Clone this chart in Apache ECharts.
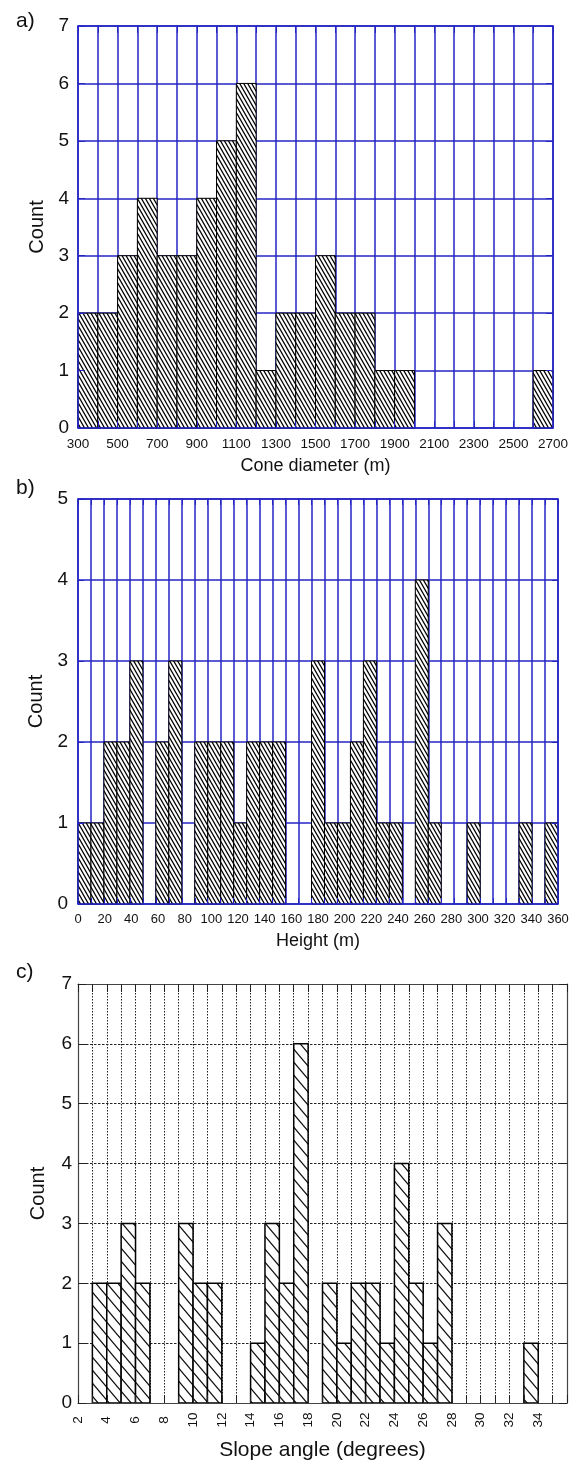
<!DOCTYPE html>
<html>
<head>
<meta charset="utf-8">
<script src="https://cdn.jsdelivr.net/npm/echarts@6/dist/echarts.min.js"></script>
<style>
  html, body { margin: 0; padding: 0; background: #fff; }
  #chart { width: 581px; height: 1462px; }
</style>
</head>
<body>
<div id="chart"></div>
<script>
// a) Cone diameter, 100 m bins starting at 300 m
const diameterStart = 300;
const diameterBinWidth = 100;
const diameterCounts = [2, 2, 3, 4, 3, 3, 4, 5, 6, 1, 2, 2, 3, 2, 2, 1, 1, 0, 0, 0, 0, 0, 0, 1];
const diameterTicks = [300, 500, 700, 900, 1100, 1300, 1500, 1700, 1900, 2100, 2300, 2500, 2700];

// b) Height, 37 equal bins spread over the 0-360 m scale
const heightCounts = [1, 1, 2, 2, 3, 0, 2, 3, 0, 2, 2, 2, 1, 2, 2, 2, 0, 0, 3, 1, 1, 2, 3, 1, 1, 0, 4, 1, 0, 0, 1, 0, 0, 0, 1, 0, 1];
const heightTicks = [0, 20, 40, 60, 80, 100, 120, 140, 160, 180, 200, 220, 240, 260, 280, 300, 320, 340, 360];

// c) Slope angle, 1 degree bins from 2 to 36 degrees
const slopeStart = 2;
const slopeBinWidth = 1;
const slopeCounts = [0, 2, 2, 3, 2, 0, 0, 3, 2, 2, 0, 0, 1, 3, 2, 6, 0, 2, 1, 2, 2, 1, 4, 2, 1, 3, 0, 0, 0, 0, 0, 1, 0, 0];
const slopeTicks = [2, 4, 6, 8, 10, 12, 14, 16, 18, 20, 22, 24, 26, 28, 30, 32, 34];

const FONT = "'Liberation Sans', Arial, Helvetica, sans-serif";
const BLUE = '#2424c4';

// Diagonal hatch tile used as a repeating bar fill
function hatch(w, h, lw, color) {
  const c = document.createElement('canvas');
  c.width = w; c.height = h;
  const g = c.getContext('2d');
  g.fillStyle = '#ffffff';
  g.fillRect(0, 0, w, h);
  g.strokeStyle = color;
  g.lineWidth = lw;
  g.beginPath();
  for (const dx of [-w, 0, w]) {
    g.moveTo(dx - w, -h);
    g.lineTo(dx + 2 * w, 2 * h);
  }
  g.stroke();
  return c;
}

// [lo, hi, count] rows for the non-empty bins
function binRows(start, width, counts) {
  const rows = [];
  counts.forEach((n, i) => {
    if (n > 0) rows.push([start + i * width, start + (i + 1) * width, n]);
  });
  return rows;
}

function barRenderer(fill, stroke, lineWidth) {
  return function (params, api) {
    const p0 = api.coord([api.value(0), api.value(2)]);
    const p1 = api.coord([api.value(1), 0]);
    return {
      type: 'rect',
      shape: { x: p0[0], y: p0[1], width: p1[0] - p0[0], height: p1[1] - p0[1] },
      style: { fill: fill, stroke: stroke, lineWidth: lineWidth }
    };
  };
}

const option = {
  animation: false,
  backgroundColor: '#ffffff',
  grid: [], xAxis: [], yAxis: [], series: [], graphic: []
};

function addPanel(p) {
  const gi = option.grid.length;
  option.grid.push({ left: 78, right: p.right, top: p.top, height: p.height });

  const xScale = { gridIndex: gi, type: 'value', min: p.xMin, max: p.xMax, interval: p.xStep };
  const yScale = { gridIndex: gi, type: 'value', min: 0, max: p.yMax, interval: 1 };
  const tickStyle = { show: true, inside: true, length: p.tickLen, lineStyle: { color: p.tickColor, width: 1 } };
  const frameLine = { show: true, onZero: false, lineStyle: { color: p.frameColor, width: p.frameWidth } };
  const xLabelStyle = {
    fontFamily: FONT, fontSize: p.xLabelSize, color: '#111', margin: p.xLabelMargin
  };
  const xName = {
    name: p.xName, nameLocation: 'middle', nameGap: p.xNameGap,
    nameTextStyle: { fontFamily: FONT, fontSize: p.xNameSize, color: '#111' }
  };

  // grid lines (behind bars)
  const xGrid = option.xAxis.length;
  const gridAxis = Object.assign({}, xScale, {
    position: 'bottom', z: 0,
    axisLine: { show: false, onZero: false }, axisTick: { show: false },
    splitLine: { show: true, lineStyle: p.vGrid },
    axisLabel: { show: false }
  });
  if (!p.labelAxis) {
    Object.assign(gridAxis, xName, {
      axisLabel: Object.assign({
        show: true,
        formatter: v => (p.xTicks.indexOf(Math.round(v)) >= 0 && Math.abs(v - Math.round(v)) < 1e-6) ? String(Math.round(v)) : ''
      }, xLabelStyle, p.xLabelExtra || {})
    });
  }
  option.xAxis.push(gridAxis);

  // separate labelled scale when bins don't line up with the tick labels
  if (p.labelAxis) {
    option.xAxis.push(Object.assign({
      gridIndex: gi, type: 'value', min: p.labelAxis.min, max: p.labelAxis.max, interval: p.labelAxis.step,
      position: 'bottom', z: 0,
      axisLine: { show: false, onZero: false }, axisTick: { show: false }, splitLine: { show: false },
      axisLabel: Object.assign({ show: true, formatter: v => String(v) }, xLabelStyle)
    }, xName));
  }

  // frame and inward ticks (above bars)
  ['bottom', 'top'].forEach(pos => {
    option.xAxis.push(Object.assign({}, xScale, {
      position: pos, z: 10,
      axisLine: frameLine, axisTick: tickStyle,
      axisLabel: { show: false }, splitLine: { show: false }
    }));
  });

  const yGrid = option.yAxis.length;
  option.yAxis.push(Object.assign({}, yScale, {
    position: 'left', z: 0,
    axisLine: { show: false, onZero: false }, axisTick: { show: false },
    splitLine: { show: true, lineStyle: p.hGrid },
    axisLabel: { show: true, fontFamily: FONT, fontSize: p.yLabelSize, color: '#111', margin: p.yLabelMargin },
    name: 'Count', nameLocation: 'middle', nameGap: p.yNameGap,
    nameTextStyle: { fontFamily: FONT, fontSize: p.yNameSize, color: '#111' }
  }));
  ['left', 'right'].forEach(pos => {
    option.yAxis.push(Object.assign({}, yScale, {
      position: pos, z: 10,
      axisLine: frameLine, axisTick: tickStyle,
      axisLabel: { show: false }, splitLine: { show: false }
    }));
  });

  option.series.push({
    type: 'custom',
    xAxisIndex: xGrid,
    yAxisIndex: yGrid,
    z: 2,
    renderItem: barRenderer({ image: p.pattern, repeat: 'repeat' }, '#000', p.barStroke),
    encode: { x: [0, 1], y: 2 },
    data: p.rows
  });

  option.graphic.push({
    type: 'text', left: 16, top: p.tagTop,
    style: { text: p.tag, font: '21px ' + FONT, fill: '#111' }
  });
}

const denseHatch = hatch(4, 7, 1.3, '#000');
const openHatch = hatch(11, 13, 1.2, '#111');

addPanel({
  tag: 'a)', tagTop: 11,
  top: 26, height: 402, right: 28,
  xMin: 300, xMax: 2700, xStep: diameterBinWidth, xTicks: diameterTicks,
  yMax: 7,
  rows: binRows(diameterStart, diameterBinWidth, diameterCounts),
  vGrid: { color: BLUE, width: 1.5, type: 'solid' },
  hGrid: { color: BLUE, width: 1.5, type: 'solid' },
  frameColor: BLUE, frameWidth: 1.5, tickColor: BLUE, tickLen: 7,
  pattern: denseHatch, barStroke: 1,
  xName: 'Cone diameter (m)', xNameGap: 29, xNameSize: 18,
  xLabelSize: 13.5, xLabelMargin: 9,
  yLabelSize: 19, yLabelMargin: 9, yNameGap: 31, yNameSize: 20
});

addPanel({
  tag: 'b)', tagTop: 478,
  top: 499, height: 405, right: 23,
  xMin: 0, xMax: heightCounts.length, xStep: 1, xTicks: [],
  labelAxis: { min: heightTicks[0], max: heightTicks[heightTicks.length - 1], step: heightTicks[1] - heightTicks[0] },
  yMax: 5,
  rows: binRows(0, 1, heightCounts),
  vGrid: { color: BLUE, width: 1.5, type: 'solid' },
  hGrid: { color: BLUE, width: 1.5, type: 'solid' },
  frameColor: BLUE, frameWidth: 1.5, tickColor: BLUE, tickLen: 6,
  pattern: denseHatch, barStroke: 1,
  xName: 'Height (m)', xNameGap: 28, xNameSize: 18,
  xLabelSize: 13, xLabelMargin: 9,
  yLabelSize: 19, yLabelMargin: 10, yNameGap: 31, yNameSize: 20
});

addPanel({
  tag: 'c)', tagTop: 962,
  top: 984, height: 421, right: 14,
  xMin: slopeStart, xMax: 36, xStep: slopeBinWidth, xTicks: slopeTicks,
  xLabelExtra: { rotate: 90, align: 'center', verticalAlign: 'middle' },
  yMax: 7,
  rows: binRows(slopeStart, slopeBinWidth, slopeCounts),
  vGrid: { color: '#222', width: 1, type: [1.5, 1.5] },
  hGrid: { color: '#222', width: 1, type: [2.5, 1.5] },
  frameColor: '#444', frameWidth: 1.2, tickColor: '#222', tickLen: 8,
  pattern: openHatch, barStroke: 1.5,
  xName: 'Slope angle (degrees)', xNameGap: 37, xNameSize: 21,
  xLabelSize: 13.5, xLabelMargin: 17,
  yLabelSize: 19, yLabelMargin: 6, yNameGap: 30, yNameSize: 20
});

const chart = echarts.init(document.getElementById('chart'), null, { renderer: 'canvas' });
chart.setOption(option);
</script>
</body>
</html>
